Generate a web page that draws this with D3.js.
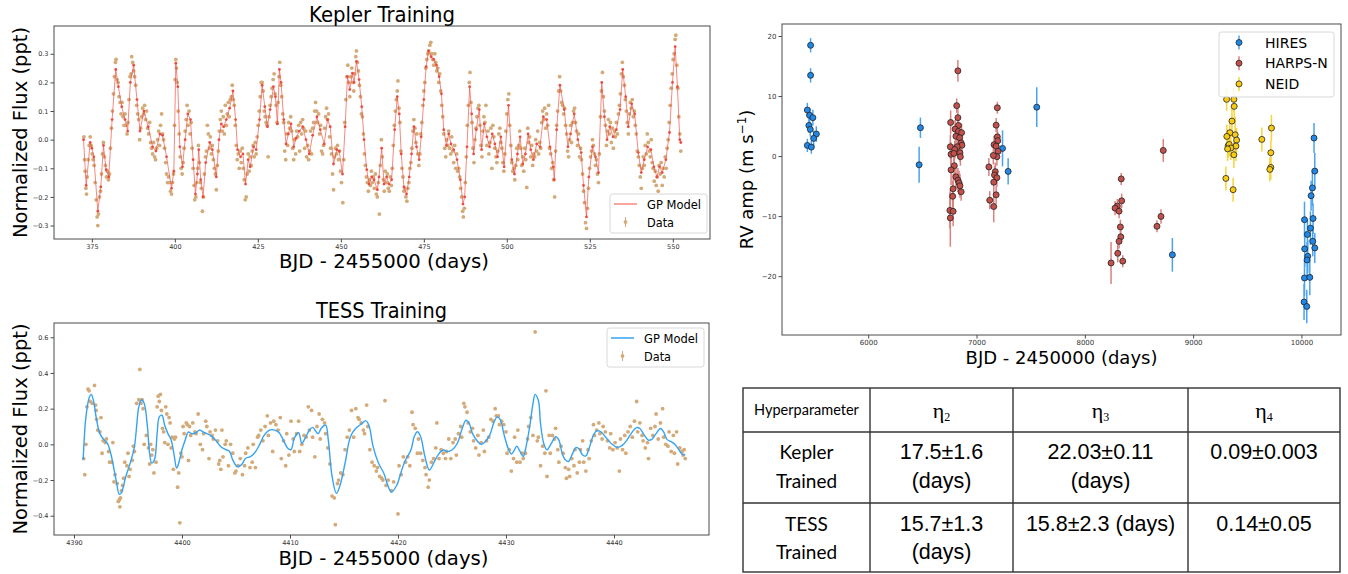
<!DOCTYPE html>
<html>
<head>
<meta charset="utf-8">
<script src="https://cdn.jsdelivr.net/npm/d3@7"></script>
<style>
  body { margin: 0; background: #fff; }
  svg text { font-family: "DejaVu Sans", sans-serif; }
</style>
</head>
<body>
<div id="chart"></div>
<script>
// Kepler GP model (day, flux in ppt)
var keplerModel = [[372.5,0.0],[373.3,-0.16],[374.5,-0.01],[375.0,-0.03],[375.6,-0.06],[376.8,-0.25],[377.7,-0.165],[378.5,-0.02],[379.3,-0.105],[380.1,-0.13],[381.1,0.07],[382.2,0.245],[383.0,0.185],[384.0,0.115],[385.0,0.07],[385.8,0.03],[386.6,0.2],[387.6,0.26],[388.6,0.14],[389.5,0.03],[390.7,0.10],[392.0,0.045],[393.3,-0.025],[394.3,-0.04],[395.5,0.02],[396.3,0.015],[397.5,-0.06],[399.0,-0.17],[399.7,-0.11],[400.3,0.267],[400.9,0.185],[401.5,-0.025],[402.3,-0.095],[403.1,0.0],[403.9,0.09],[404.7,0.07],[405.5,-0.07],[406.2,-0.19],[406.8,-0.12],[407.2,-0.035],[407.8,-0.14],[408.5,-0.2],[409.3,-0.08],[410.5,-0.01],[411.3,-0.035],[412.5,-0.13],[413.3,0.0],[414.0,0.055],[414.7,0.045],[415.5,0.07],[416.5,0.11],[417.5,0.17],[418.3,0.07],[418.9,-0.035],[419.8,-0.06],[420.5,-0.05],[421.3,-0.155],[422.1,-0.07],[422.7,-0.095],[423.7,-0.025],[424.5,-0.035],[425.5,0.07],[426.3,0.19],[427.1,0.115],[427.9,0.045],[428.7,0.105],[429.7,0.185],[430.3,0.15],[430.9,0.055],[431.5,0.245],[432.0,0.2],[432.8,0.07],[433.5,-0.015],[434.2,0.02],[435.0,0.055],[435.8,-0.025],[436.5,0.005],[437.5,0.03],[438.5,0.045],[439.5,0.0],[440.5,-0.05],[441.5,0.015],[442.8,0.08],[443.8,0.035],[445.0,-0.015],[446.0,0.07],[446.8,0.045],[447.8,-0.085],[448.8,-0.035],[449.5,-0.04],[450.5,-0.12],[451.3,0.045],[452.0,0.22],[452.7,0.175],[453.5,0.232],[454.0,0.2],[454.7,0.273],[455.5,0.21],[456.3,0.115],[457.0,0.0],[457.8,-0.105],[458.5,-0.155],[459.3,-0.13],[460.0,-0.14],[461.0,-0.175],[461.5,-0.13],[462.3,-0.03],[463.0,-0.155],[463.8,-0.13],[464.5,-0.155],[465.3,-0.14],[466.2,0.035],[467.0,0.15],[467.6,0.09],[468.2,-0.05],[469.0,-0.165],[469.8,-0.19],[470.6,-0.13],[471.3,-0.05],[472.0,0.045],[472.8,-0.025],[473.6,-0.07],[474.2,0.01],[475.0,0.14],[475.7,0.255],[476.4,0.31],[477.2,0.29],[478.0,0.28],[478.8,0.26],[479.6,0.22],[480.3,0.16],[481.0,0.035],[481.8,-0.02],[482.5,0.02],[483.2,-0.015],[484.0,-0.035],[485.0,-0.07],[486.0,-0.14],[486.8,-0.225],[487.3,-0.2],[488.0,-0.025],[488.8,0.185],[489.4,0.09],[490.0,-0.05],[490.8,0.035],[491.7,0.105],[492.4,-0.035],[493.2,0.055],[494.0,0.01],[494.8,-0.025],[495.6,0.02],[496.4,-0.015],[497.2,-0.06],[498.2,0.01],[499.2,-0.095],[500.5,0.12],[501.5,-0.07],[502.3,-0.12],[503.2,-0.05],[504.0,0.01],[504.8,-0.085],[505.6,-0.05],[506.4,0.02],[507.2,-0.035],[508.0,-0.07],[509.0,-0.015],[510.0,-0.025],[511.0,0.08],[512.0,0.07],[513.0,-0.025],[514.0,-0.095],[514.3,-0.14],[515.0,0.035],[516.0,0.19],[517.3,0.105],[518.4,-0.025],[519.2,0.02],[520.3,0.09],[521.4,0.0],[522.4,-0.045],[523.1,-0.16],[524.0,-0.27],[524.7,-0.13],[525.8,-0.025],[526.7,-0.06],[527.6,-0.115],[528.6,0.2],[529.4,0.08],[530.2,0.0],[531.0,0.045],[532.0,0.01],[533.0,0.035],[534.1,0.105],[534.9,0.245],[535.8,0.15],[536.6,0.045],[537.6,0.125],[538.5,0.09],[539.6,-0.045],[540.5,-0.115],[541.4,-0.07],[542.4,-0.025],[543.4,-0.035],[544.3,-0.095],[545.2,-0.13],[546.0,-0.095],[546.8,-0.115],[547.9,-0.07],[549.0,0.025],[549.9,0.2],[550.7,0.325],[551.4,0.185],[552.1,0.0],[552.4,-0.01]];

// Kepler photometry (day, flux in ppt)
var keplerData = [[372.6,0.01],[372.8,-0.07],[373.0,-0.11],[373.2,-0.17],[373.4,-0.19],[373.6,-0.13],[373.9,-0.07],[374.2,-0.02],[374.5,0.01],[374.8,-0.02],[375.1,-0.05],[375.4,-0.07],[375.7,-0.09],[376.0,-0.15],[376.3,-0.21],[376.6,-0.27],[376.8,-0.3],[377.0,-0.26],[377.3,-0.2],[377.6,-0.18],[377.9,-0.12],[378.2,-0.05],[378.5,-0.01],[378.8,-0.06],[379.1,-0.09],[379.4,-0.13],[379.7,-0.11],[380.0,-0.14],[380.3,-0.12],[380.6,-0.03],[380.9,0.04],[381.2,0.1],[381.5,0.16],[381.8,0.22],[382.1,0.27],[382.3,0.28],[382.6,0.21],[382.9,0.2],[383.2,0.15],[383.5,0.13],[383.8,0.09],[384.1,0.13],[384.4,0.08],[384.7,0.05],[385.0,0.09],[385.3,0.05],[385.6,0.02],[385.9,0.06],[386.2,0.14],[386.5,0.22],[386.8,0.23],[387.0,0.29],[387.3,0.27],[387.6,0.24],[387.9,0.22],[388.2,0.19],[388.5,0.12],[388.8,0.09],[389.1,0.07],[389.4,0.0],[389.7,0.04],[390.0,0.08],[390.3,0.11],[390.6,0.09],[390.9,0.12],[391.2,0.07],[391.5,0.1],[391.8,0.04],[392.1,0.02],[392.4,0.06],[392.7,-0.01],[393.0,-0.03],[393.3,-0.05],[393.6,-0.01],[393.9,-0.06],[394.2,-0.07],[394.5,-0.03],[394.8,0.0],[395.1,0.03],[395.4,-0.02],[395.7,0.05],[396.0,0.09],[396.3,0.02],[396.6,0.0],[396.9,-0.03],[397.2,-0.08],[397.5,-0.12],[397.8,-0.15],[398.1,-0.13],[398.4,-0.15],[398.7,-0.18],[399.0,-0.19],[399.3,-0.15],[399.6,-0.12],[399.9,0.05],[400.1,0.21],[400.3,0.28],[400.5,0.25],[400.7,0.2],[401.0,0.1],[401.3,0.02],[401.6,-0.06],[401.9,-0.1],[402.2,-0.12],[402.5,-0.08],[402.8,-0.03],[403.1,0.03],[403.4,0.07],[403.7,0.12],[404.0,0.05],[404.3,0.1],[404.6,0.02],[404.9,0.06],[405.2,-0.03],[405.5,-0.1],[405.8,-0.16],[406.0,-0.21],[406.3,-0.2],[406.6,-0.15],[406.9,-0.1],[407.1,-0.02],[407.4,-0.08],[407.7,-0.15],[408.0,-0.17],[408.3,-0.25],[408.6,-0.2],[408.9,-0.12],[409.2,-0.06],[409.5,-0.04],[409.8,0.05],[410.1,0.02],[410.4,-0.03],[410.7,0.01],[411.0,-0.05],[411.3,-0.02],[411.6,-0.07],[411.9,-0.1],[412.2,-0.12],[412.5,-0.175],[412.8,-0.09],[413.1,-0.04],[413.4,0.03],[413.7,0.07],[414.0,0.1],[414.3,0.03],[414.6,0.08],[414.9,0.02],[415.2,0.12],[415.5,0.05],[415.8,0.09],[416.1,0.13],[416.4,0.08],[416.7,0.14],[417.0,0.15],[417.3,0.19],[417.6,0.14],[417.9,0.12],[418.2,0.05],[418.5,-0.02],[418.8,-0.07],[419.1,-0.05],[419.4,-0.1],[419.7,-0.04],[420.0,-0.08],[420.3,-0.03],[420.6,-0.1],[420.9,-0.14],[421.2,-0.21],[421.5,-0.2],[421.8,-0.12],[422.1,-0.05],[422.4,-0.11],[422.7,-0.06],[423.0,-0.09],[423.3,-0.04],[423.6,-0.02],[423.9,-0.06],[424.2,-0.01],[424.5,-0.05],[424.8,0.01],[425.1,0.05],[425.4,0.1],[425.7,0.15],[426.0,0.2],[426.3,0.2],[426.6,0.17],[426.9,0.1],[427.2,0.08],[427.5,0.06],[427.8,0.05],[428.1,-0.06],[428.4,0.08],[428.7,0.12],[429.0,0.15],[429.3,0.18],[429.6,0.21],[429.9,0.23],[430.2,0.16],[430.5,0.12],[430.8,0.06],[431.1,0.13],[431.4,0.22],[431.6,0.27],[431.9,0.19],[432.2,0.15],[432.5,0.09],[432.8,0.06],[433.1,-0.04],[433.4,-0.07],[433.7,0.02],[434.0,-0.02],[434.3,0.06],[434.6,0.04],[434.9,0.08],[435.2,0.03],[435.5,-0.03],[435.8,-0.07],[436.1,0.0],[436.4,-0.05],[436.7,0.03],[437.0,0.01],[437.3,0.05],[437.6,-0.04],[437.9,0.06],[438.2,0.02],[438.5,0.07],[438.8,0.04],[439.1,-0.03],[439.4,0.03],[439.7,-0.06],[440.0,-0.02],[440.3,-0.07],[440.6,-0.04],[440.9,0.03],[441.2,-0.05],[441.5,0.04],[441.8,0.06],[442.1,0.1],[442.4,0.13],[442.7,0.1],[443.0,0.06],[443.3,0.09],[443.6,0.02],[443.9,0.05],[444.2,-0.04],[444.5,-0.05],[444.8,-0.02],[445.1,0.04],[445.4,0.08],[445.7,0.11],[446.0,0.07],[446.3,0.09],[446.6,0.01],[446.9,-0.03],[447.2,-0.05],[447.5,-0.12],[447.8,-0.175],[448.1,-0.06],[448.4,-0.03],[448.7,-0.05],[449.0,-0.02],[449.3,-0.07],[449.6,-0.04],[449.9,-0.11],[450.2,-0.15],[450.6,-0.22],[450.9,-0.07],[451.2,0.06],[451.5,0.14],[451.8,0.22],[452.1,0.26],[452.4,0.2],[452.7,0.15],[453.0,0.22],[453.3,0.25],[453.6,0.2],[453.9,0.17],[454.2,0.23],[454.5,0.29],[454.7,0.31],[455.0,0.27],[455.3,0.24],[455.6,0.19],[455.9,0.15],[456.2,0.09],[456.5,0.08],[456.8,0.02],[457.1,-0.05],[457.4,-0.09],[457.7,-0.13],[458.0,-0.15],[458.3,-0.18],[458.6,-0.14],[458.9,-0.16],[459.2,-0.11],[459.5,-0.15],[459.8,-0.13],[460.1,-0.17],[460.4,-0.12],[460.7,-0.19],[461.0,-0.2],[461.3,-0.15],[461.6,-0.26],[461.9,-0.09],[462.2,0.0],[462.5,-0.06],[462.8,-0.14],[463.1,-0.18],[463.4,-0.11],[463.7,-0.15],[464.0,-0.12],[464.3,-0.17],[464.6,-0.18],[464.9,-0.13],[465.2,-0.16],[465.5,-0.1],[465.8,-0.02],[466.1,0.05],[466.4,0.1],[466.7,0.14],[467.0,0.17],[467.2,0.205],[467.5,0.11],[467.8,0.06],[468.1,-0.04],[468.4,-0.1],[468.7,-0.13],[469.0,-0.18],[469.3,-0.17],[469.6,-0.2],[469.9,-0.215],[470.2,-0.17],[470.5,-0.15],[470.8,-0.1],[471.1,-0.08],[471.4,-0.03],[471.7,0.03],[472.0,0.07],[472.3,0.04],[472.6,-0.01],[472.9,0.02],[473.2,-0.05],[473.5,-0.09],[473.8,-0.05],[474.1,0.02],[474.4,0.06],[474.7,0.12],[475.0,0.17],[475.3,0.2],[475.6,0.25],[475.9,0.28],[476.2,0.3],[476.5,0.31],[476.8,0.33],[477.1,0.34],[477.4,0.3],[477.7,0.28],[478.0,0.26],[478.3,0.3],[478.6,0.27],[478.9,0.24],[479.2,0.25],[479.5,0.2],[479.8,0.23],[480.1,0.17],[480.4,0.12],[480.7,0.08],[481.0,0.02],[481.3,-0.03],[481.6,-0.06],[481.9,0.0],[482.2,-0.02],[482.5,0.03],[482.8,-0.03],[483.1,-0.05],[483.4,0.01],[483.7,-0.04],[484.0,-0.08],[484.3,-0.02],[484.6,-0.1],[484.9,-0.05],[485.2,-0.11],[485.5,-0.1],[485.8,-0.13],[486.1,-0.17],[486.4,-0.2],[486.7,-0.25],[486.9,-0.27],[487.2,-0.24],[487.5,-0.15],[487.8,-0.06],[488.1,0.05],[488.4,0.12],[488.7,0.2],[488.9,0.235],[489.2,0.13],[489.5,0.06],[489.8,-0.03],[490.1,-0.08],[490.4,0.0],[490.7,0.04],[491.0,0.08],[491.3,0.11],[491.6,0.12],[491.9,0.05],[492.2,-0.02],[492.5,-0.06],[492.8,0.03],[493.1,0.08],[493.4,0.06],[493.7,0.12],[494.0,-0.02],[494.3,0.03],[494.6,-0.05],[494.9,-0.01],[495.2,0.04],[495.5,-0.1],[495.8,0.05],[496.1,0.01],[496.4,-0.03],[496.7,-0.06],[497.0,-0.08],[497.3,-0.04],[497.6,0.02],[497.9,0.04],[498.2,-0.01],[498.5,-0.03],[498.8,-0.08],[499.1,-0.11],[499.4,-0.05],[499.7,0.03],[500.0,0.09],[500.3,0.14],[500.6,0.16],[500.9,0.05],[501.2,-0.02],[501.5,-0.08],[501.8,-0.11],[502.1,-0.1],[502.4,-0.14],[502.7,-0.09],[503.0,-0.03],[503.3,-0.07],[503.6,-0.02],[503.9,0.03],[504.2,-0.03],[504.5,-0.09],[504.8,-0.06],[505.1,-0.11],[505.4,-0.03],[505.7,-0.07],[506.0,-0.167],[506.3,0.04],[506.6,-0.01],[506.9,0.01],[507.2,-0.06],[507.5,-0.02],[507.8,-0.09],[508.1,-0.05],[508.4,-0.06],[508.7,0.0],[509.0,-0.04],[509.3,0.03],[509.6,-0.05],[509.9,-0.01],[510.2,-0.03],[510.5,0.06],[510.8,0.1],[511.1,0.07],[511.4,0.11],[511.7,0.04],[512.0,0.09],[512.3,0.05],[512.6,0.12],[512.9,-0.03],[513.2,-0.05],[513.5,-0.1],[513.8,-0.08],[514.1,-0.14],[514.4,-0.2],[514.7,-0.04],[515.0,0.05],[515.3,0.1],[515.6,0.17],[515.9,0.22],[516.2,0.17],[516.5,0.13],[516.8,0.12],[517.1,0.09],[517.4,0.11],[517.7,0.05],[518.0,0.02],[518.3,-0.04],[518.6,-0.06],[518.9,0.0],[519.2,0.05],[519.5,-0.01],[519.8,0.06],[520.1,0.1],[520.4,0.11],[520.7,0.06],[521.0,0.03],[521.3,-0.02],[521.6,0.02],[521.9,-0.06],[522.2,-0.03],[522.5,-0.07],[522.8,-0.12],[523.1,-0.18],[523.4,-0.22],[523.7,-0.29],[524.0,-0.31],[524.3,-0.24],[524.6,-0.17],[524.9,-0.1],[525.2,-0.06],[525.5,-0.04],[525.8,0.0],[526.1,-0.02],[526.4,-0.05],[526.7,-0.09],[527.0,-0.07],[527.3,-0.12],[527.6,-0.15],[527.9,-0.05],[528.2,0.08],[528.5,0.17],[528.8,0.235],[529.1,0.15],[529.4,0.1],[529.7,0.05],[530.0,-0.02],[530.3,0.03],[530.6,0.07],[530.9,0.02],[531.2,0.06],[531.5,-0.01],[531.8,0.04],[532.1,-0.03],[532.4,0.03],[532.7,0.01],[533.0,0.06],[533.3,0.02],[533.6,0.09],[533.9,0.12],[534.2,0.16],[534.5,0.23],[534.8,0.27],[535.1,0.22],[535.4,0.19],[535.7,0.14],[536.0,0.1],[536.3,0.06],[536.6,0.02],[536.9,0.09],[537.2,0.13],[537.5,0.11],[537.8,0.14],[538.1,0.08],[538.4,0.1],[538.7,0.05],[539.0,0.02],[539.3,-0.04],[539.6,-0.06],[539.9,-0.09],[540.2,-0.13],[540.5,-0.17],[540.8,-0.1],[541.1,-0.06],[541.4,-0.09],[541.7,-0.02],[542.0,-0.05],[542.3,0.02],[542.6,-0.01],[542.9,-0.04],[543.2,-0.06],[543.5,0.0],[543.8,-0.08],[544.1,-0.1],[544.4,-0.145],[544.7,-0.11],[545.0,-0.16],[545.3,-0.13],[545.6,-0.18],[545.9,-0.09],[546.2,-0.12],[546.5,-0.08],[546.8,-0.16],[547.1,-0.1],[547.4,-0.13],[547.7,-0.06],[548.0,-0.1],[548.3,-0.03],[548.6,0.0],[548.9,0.06],[549.2,0.12],[549.5,0.18],[549.8,0.23],[550.1,0.28],[550.4,0.3],[550.7,0.35],[550.9,0.365],[551.2,0.26],[551.5,0.18],[551.8,0.08],[552.1,0.02],[552.4,-0.04]];

// TESS GP model (day, flux in ppt)
var tessModel = [[4390.85,-0.087],[4391.1,0.15],[4391.4,0.26],[4391.6,0.28],[4391.8,0.246],[4392.1,0.135],[4392.4,0.06],[4392.8,0.024],[4393.1,0.005],[4393.4,-0.05],[4393.9,-0.2],[4394.2,-0.28],[4394.4,-0.27],[4394.8,-0.18],[4395.3,-0.087],[4395.6,-0.013],[4395.8,0.1],[4396.0,0.21],[4396.25,0.25],[4396.5,0.23],[4396.8,0.1],[4397.0,-0.05],[4397.2,-0.105],[4397.45,-0.087],[4397.7,0.06],[4397.9,0.154],[4398.15,0.163],[4398.4,0.107],[4398.7,0.06],[4399.0,0.024],[4399.3,-0.07],[4399.5,-0.133],[4399.7,-0.105],[4400.0,-0.03],[4400.3,0.024],[4400.6,0.07],[4400.9,0.06],[4401.3,0.065],[4401.6,0.08],[4402.1,0.065],[4402.6,0.052],[4403.1,0.024],[4403.6,-0.013],[4404.0,-0.028],[4404.4,-0.04],[4404.7,-0.087],[4405.1,-0.124],[4405.5,-0.115],[4405.9,-0.078],[4406.3,-0.07],[4406.7,-0.05],[4407.2,0.0],[4407.6,0.05],[4408.1,0.08],[4408.6,0.08],[4409.0,0.065],[4409.3,0.035],[4409.8,-0.022],[4410.1,-0.03],[4410.4,0.034],[4410.8,0.065],[4411.1,0.006],[4411.4,0.034],[4411.8,0.08],[4412.1,0.095],[4412.6,0.06],[4412.9,0.09],[4413.3,0.108],[4413.55,0.024],[4413.9,-0.18],[4414.3,-0.275],[4414.6,-0.237],[4415.1,-0.106],[4415.6,0.043],[4416.1,0.09],[4416.7,0.118],[4417.0,0.133],[4417.3,0.108],[4417.7,-0.013],[4418.2,-0.106],[4418.7,-0.163],[4419.1,-0.237],[4419.4,-0.267],[4419.9,-0.228],[4420.3,-0.153],[4420.7,-0.088],[4421.2,-0.032],[4421.5,0.043],[4421.8,0.071],[4422.1,0.043],[4422.5,-0.069],[4422.9,-0.144],[4423.3,-0.106],[4423.7,-0.06],[4424.2,-0.032],[4424.6,-0.041],[4425.0,-0.032],[4425.5,0.006],[4425.9,0.08],[4426.3,0.135],[4426.6,0.117],[4426.9,0.06],[4427.4,0.015],[4427.7,0.0],[4428.0,0.01],[4428.5,0.052],[4428.9,0.126],[4429.2,0.154],[4429.5,0.135],[4429.8,0.06],[4430.2,-0.022],[4430.5,-0.054],[4430.8,-0.03],[4431.0,-0.01],[4431.3,-0.04],[4431.6,-0.068],[4431.8,-0.03],[4432.2,0.1],[4432.5,0.228],[4432.7,0.28],[4433.0,0.246],[4433.2,0.117],[4433.5,0.005],[4433.8,-0.03],[4434.2,0.005],[4434.6,0.043],[4434.9,0.024],[4435.2,-0.05],[4435.5,-0.087],[4435.8,-0.096],[4436.1,-0.06],[4436.5,-0.017],[4436.8,-0.028],[4437.1,-0.06],[4437.4,-0.065],[4437.7,-0.022],[4438.1,0.052],[4438.4,0.076],[4438.8,0.07],[4439.2,0.043],[4439.8,0.002],[4440.3,-0.017],[4440.8,-0.004],[4441.2,0.024],[4441.7,0.07],[4442.1,0.094],[4442.4,0.089],[4442.8,0.052],[4443.2,0.024],[4443.5,0.028],[4443.9,0.06],[4444.3,0.089],[4444.6,0.07],[4444.9,0.028],[4445.3,0.015],[4445.7,-0.004],[4446.0,-0.03],[4446.3,-0.054],[4446.6,-0.06]];

// TESS photometry (day, flux in ppt)
var tessData = [[4390.9,-0.08],[4391.0,-0.17],[4391.1,0.0],[4391.2,0.21],[4391.3,0.31],[4391.4,0.3],[4391.5,0.24],[4391.7,0.23],[4391.9,0.33],[4392.0,0.22],[4392.05,0.19],[4392.1,0.14],[4392.2,0.08],[4392.4,0.07],[4392.5,0.15],[4392.6,-0.05],[4392.7,0.02],[4392.9,0.01],[4393.0,0.03],[4393.2,-0.04],[4393.3,-0.1],[4393.5,-0.1],[4393.6,0.01],[4393.7,-0.21],[4393.8,-0.17],[4394.0,-0.22],[4394.1,-0.32],[4394.2,-0.31],[4394.25,-0.35],[4394.3,-0.3],[4394.4,-0.26],[4394.5,-0.23],[4394.6,-0.19],[4394.7,-0.1],[4394.9,-0.12],[4395.0,-0.05],[4395.1,-0.18],[4395.2,-0.14],[4395.4,-0.09],[4395.5,-0.01],[4395.6,-0.04],[4395.8,0.23],[4396.0,0.25],[4396.1,0.42],[4396.2,0.23],[4396.3,0.25],[4396.4,0.2],[4396.5,0.0],[4396.7,0.05],[4396.9,-0.02],[4397.0,-0.11],[4397.1,0.0],[4397.2,-0.06],[4397.3,-0.03],[4397.4,-0.16],[4397.6,-0.1],[4397.7,0.21],[4397.8,0.27],[4397.9,0.24],[4398.0,0.28],[4398.1,0.19],[4398.2,0.09],[4398.3,0.07],[4398.4,0.01],[4398.5,0.21],[4398.6,0.17],[4398.7,0.0],[4398.8,0.15],[4398.9,0.12],[4399.0,-0.02],[4399.1,0.04],[4399.2,-0.14],[4399.3,0.03],[4399.4,0.04],[4399.6,-0.24],[4399.7,-0.16],[4399.8,-0.44],[4399.9,-0.05],[4400.0,-0.07],[4400.1,0.1],[4400.2,0.06],[4400.4,0.12],[4400.5,0.11],[4400.6,-0.09],[4400.7,0.1],[4400.8,0.05],[4401.0,0.12],[4401.2,0.07],[4401.3,0.06],[4401.5,0.17],[4401.7,0.0],[4401.9,-0.03],[4402.0,0.06],[4402.2,0.13],[4402.3,0.1],[4402.5,-0.08],[4402.6,0.07],[4402.8,0.05],[4402.9,0.03],[4403.1,0.08],[4403.3,0.02],[4403.4,-0.11],[4403.5,-0.09],[4403.6,-0.14],[4403.7,0.08],[4403.8,-0.07],[4404.0,0.0],[4404.1,0.02],[4404.3,-0.12],[4404.5,0.0],[4404.7,-0.05],[4404.9,-0.16],[4405.0,-0.15],[4405.2,-0.12],[4405.4,-0.08],[4405.6,-0.17],[4405.8,-0.12],[4405.9,-0.05],[4406.1,-0.02],[4406.3,-0.13],[4406.5,-0.1],[4406.6,0.0],[4406.8,-0.13],[4407.0,0.04],[4407.1,0.05],[4407.3,0.08],[4407.5,0.02],[4407.7,0.1],[4407.9,0.16],[4408.0,0.05],[4408.2,0.12],[4408.4,-0.04],[4408.5,0.13],[4408.7,0.11],[4408.9,0.08],[4409.1,0.15],[4409.2,-0.08],[4409.4,0.02],[4409.6,-0.12],[4409.7,0.06],[4409.9,-0.06],[4410.1,0.13],[4410.3,0.03],[4410.4,-0.04],[4410.6,0.06],[4410.8,0.13],[4410.9,-0.04],[4411.1,0.0],[4411.3,0.05],[4411.5,0.04],[4411.7,0.21],[4411.8,0.08],[4412.0,0.19],[4412.1,0.04],[4412.3,-0.07],[4412.5,0.1],[4412.7,0.17],[4412.8,0.03],[4413.0,0.14],[4413.2,0.12],[4413.3,0.06],[4413.5,-0.02],[4413.7,-0.11],[4413.9,-0.29],[4414.1,-0.3],[4414.2,-0.45],[4414.4,-0.22],[4414.5,-0.2],[4414.7,-0.16],[4414.9,-0.17],[4415.1,-0.03],[4415.3,0.04],[4415.5,0.08],[4415.7,0.19],[4415.9,0.04],[4416.1,0.2],[4416.3,0.15],[4416.4,0.14],[4416.6,0.12],[4416.8,0.08],[4416.9,0.06],[4417.1,0.22],[4417.2,0.1],[4417.4,-0.03],[4417.6,-0.1],[4417.8,-0.12],[4418.0,-0.15],[4418.1,-0.13],[4418.3,-0.18],[4418.5,-0.19],[4418.6,-0.2],[4418.8,0.245],[4418.9,-0.23],[4419.1,-0.2],[4419.4,-0.26],[4419.6,-0.21],[4420.0,-0.39],[4420.1,-0.12],[4420.3,-0.17],[4420.5,-0.07],[4420.7,-0.1],[4420.9,-0.07],[4421.1,-0.12],[4421.3,0.18],[4421.4,0.11],[4421.6,0.09],[4421.8,-0.05],[4421.9,0.03],[4422.1,-0.05],[4422.3,-0.09],[4422.5,-0.13],[4422.6,-0.17],[4422.8,-0.24],[4422.9,-0.2],[4423.1,-0.1],[4423.3,-0.08],[4423.5,-0.02],[4423.6,0.12],[4423.8,-0.08],[4424.0,-0.03],[4424.2,-0.05],[4424.4,-0.08],[4424.5,-0.04],[4424.7,0.03],[4424.9,-0.08],[4425.1,0.01],[4425.3,0.03],[4425.4,-0.06],[4425.6,0.06],[4425.8,0.1],[4425.9,0.04],[4426.1,0.23],[4426.2,0.21],[4426.4,0.18],[4426.5,0.12],[4426.7,0.07],[4426.9,0.09],[4427.0,0.02],[4427.2,-0.02],[4427.4,0.05],[4427.5,-0.06],[4427.7,0.01],[4427.9,0.08],[4428.0,-0.04],[4428.2,0.02],[4428.4,0.04],[4428.6,0.14],[4428.8,0.13],[4429.0,0.2],[4429.1,0.16],[4429.3,0.16],[4429.4,0.11],[4429.6,0.13],[4429.8,0.11],[4430.0,0.07],[4430.1,-0.05],[4430.3,-0.03],[4430.5,-0.15],[4430.7,-0.08],[4430.8,0.04],[4431.0,-0.1],[4431.1,0.08],[4431.3,-0.1],[4431.5,-0.05],[4431.6,-0.08],[4431.8,-0.05],[4432.0,0.03],[4432.1,0.1],[4432.3,0.15],[4432.5,0.05],[4432.7,0.63],[4432.9,0.02],[4433.0,0.04],[4433.2,-0.12],[4433.4,-0.01],[4433.6,-0.05],[4433.7,0.3],[4433.8,-0.18],[4434.0,0.05],[4434.1,-0.05],[4434.3,0.05],[4434.5,0.03],[4434.6,0.09],[4434.8,-0.03],[4434.9,-0.1],[4435.1,-0.01],[4435.3,-0.05],[4435.5,-0.13],[4435.6,-0.19],[4435.8,-0.14],[4435.9,-0.18],[4436.1,-0.08],[4436.3,-0.12],[4436.4,-0.03],[4436.6,-0.16],[4436.8,-0.1],[4436.9,-0.03],[4437.1,0.02],[4437.2,-0.1],[4437.4,-0.15],[4437.6,-0.03],[4437.7,-0.08],[4437.9,0.02],[4438.1,0.11],[4438.2,0.05],[4438.4,0.08],[4438.6,0.12],[4438.7,0.06],[4438.9,0.03],[4439.0,0.1],[4439.2,0.07],[4439.4,0.02],[4439.6,-0.02],[4439.7,0.06],[4439.9,-0.03],[4440.1,0.01],[4440.3,-0.02],[4440.5,-0.15],[4440.6,0.03],[4440.8,-0.03],[4441.0,0.05],[4441.1,-0.05],[4441.3,0.07],[4441.5,0.1],[4441.7,0.04],[4441.9,0.13],[4442.1,0.24],[4442.2,0.07],[4442.4,0.12],[4442.6,0.05],[4442.7,0.02],[4442.9,-0.02],[4443.1,0.01],[4443.2,-0.08],[4443.4,0.09],[4443.6,0.05],[4443.8,0.1],[4443.9,0.17],[4444.1,0.03],[4444.3,0.12],[4444.5,0.2],[4444.6,0.04],[4444.8,0.0],[4445.0,-0.01],[4445.1,0.07],[4445.3,-0.04],[4445.5,0.05],[4445.6,-0.05],[4445.8,0.07],[4445.9,-0.11],[4446.1,-0.02],[4446.3,-0.04],[4446.4,-0.06],[4446.5,-0.03],[4446.6,-0.08]];

// RV points: [BJD-2450000, RV (m/s), error]
var hiresRV = [[5468,18.45,1.2],[5468,13.45,1.2],[5438,7.67,1.2],[5459,6.8,1.2],[5489,6.4,1.3],[5452,5.1,1.2],[5465,4.45,1.2],[5521,3.67,1.3],[5496,2.95,1.3],[5438,1.78,1.1],[5475,1.5,1.1],[6482,4.72,1.7],[6470,-1.45,3.0],[7240,1.28,3.0],[7292,-2.55,2.2],[7556,8.15,3.3],[8808,-16.45,2.8],[10116,3.0,2.5],[10123,-2.5,3.0],[10101,-5.3,3.0],[10089,-6.6,2.5],[10107,-10.4,2.5],[10028,-10.6,3.0],[10083,-12.0,2.8],[10055,-13.05,2.5],[10104,-14.2,2.5],[10123,-15.3,2.5],[10030,-15.45,3.0],[10058,-16.7,2.8],[10052,-17.3,3.0],[10028,-20.3,3.0],[10077,-20.2,3.0],[10024,-24.3,3.0],[10049,-25.05,2.8]];
var harpsRV = [[6828,14.2,1.8],[6817,8.4,1.2],[6761,5.6,2.0],[6828,6.4,1.5],[6833,5.1,1.5],[6802,4.5,1.5],[6833,4.1,1.5],[6862,3.9,1.5],[6810,3.3,1.5],[6844,3.05,1.5],[6758,1.55,2.0],[6858,2.2,1.5],[6865,1.8,1.5],[6821,1.55,1.5],[6799,1.1,1.5],[6765,0.3,2.0],[6791,0.45,1.5],[6847,0.55,1.5],[6851,-0.1,1.5],[6795,-1.6,1.5],[6765,-2.3,2.5],[6810,-3.45,2.0],[6828,-4.0,2.0],[6839,-4.45,2.0],[6847,-4.95,2.0],[6784,-5.45,2.5],[6858,-5.95,1.5],[6780,-6.7,2.5],[6754,-9.05,3.0],[6784,-9.2,2.5],[6758,-10.3,4.8],[7192,8.05,1.0],[7181,5.15,1.2],[7192,3.2,1.5],[7196,2.55,1.5],[7162,1.9,1.5],[7181,1.65,1.5],[7199,0.8,1.5],[7188,-0.1,1.5],[7155,0.1,1.5],[7114,-1.8,1.5],[7173,-2.6,1.5],[7166,-3.15,1.5],[7188,-3.6,1.5],[7159,-4.35,1.5],[7181,-6.45,1.5],[7122,-7.35,1.5],[7159,-8.4,2.6],[8336,-3.8,1.0],[8300,-8.33,1.2],[8279,-8.67,1.2],[8316,-9.17,1.2],[8340,-7.45,1.2],[8328,-11.8,1.2],[8332,-13.45,1.2],[8316,-14.2,1.2],[8304,-16.2,1.5],[8242,-17.8,3.5],[8350,-17.5,1.0],[8666,-11.7,1.0],[8703,-10.05,1.2],[8724,0.94,1.9]];
var neidRV = [[9309,9.45,1.9],[9376,9.45,1.9],[9379,8.28,2.0],[9358,5.83,2.2],[9388,3.55,3.0],[9339,3.9,2.0],[9311,3.28,2.0],[9401,2.67,2.0],[9323,1.72,2.0],[9395,1.67,2.5],[9333,1.94,2.0],[9348,1.35,2.0],[9318,1.2,2.0],[9376,0.22,2.2],[9302,-3.72,2.0],[9369,-5.6,2.0],[9634,2.78,2.0],[9723,4.67,2.2],[9717,0.56,2.0],[9717,-1.89,2.0],[9708,-2.22,2.0]];

// hyperparameter table
var tableSymbols = ["2", "3", "4"];
var tableRowLabels = [["Kepler", "Trained"], ["TESS", "Trained"]];
var tableCells = [
  [["17.5±1.6", "(days)"], ["22.03±0.11", "(days)"], ["0.09±0.003"]],
  [["15.7±1.3", "(days)"], ["15.8±2.3 (days)"], ["0.14±0.05"]]
];

var svg = d3.select("#chart").append("svg")
  .attr("width", 1348)
  .attr("height", 574);

var frameColor = "#4a4a4a";
var tan = "#d3aa78";

// shared axis drawing for all three plots
function drawAxes(x, y, box, xTicks, yTicks, xFmt, yFmt, fontSize) {
  var gx = svg.append("g")
    .attr("transform", `translate(0, ${box.bottom})`)
    .call(d3.axisBottom(x).tickValues(xTicks).tickFormat(xFmt).tickSize(3.5).tickPadding(1.5));
  var gy = svg.append("g")
    .attr("transform", `translate(${box.left}, 0)`)
    .call(d3.axisLeft(y).tickValues(yTicks).tickFormat(yFmt).tickSize(3.5).tickPadding(2));
  [gx, gy].forEach(function (g) {
    g.select(".domain").remove();
    g.selectAll("line").attr("stroke", frameColor);
    g.selectAll("text").attr("fill", "#333").style("font-size", fontSize + "px");
  });
  svg.append("rect")
    .attr("x", box.left).attr("y", box.top)
    .attr("width", box.right - box.left).attr("height", box.bottom - box.top)
    .attr("fill", "none").attr("stroke", frameColor).attr("stroke-width", 1);
}

function lightCurve(cfg) {
  var box = cfg.box;
  var x = d3.scaleLinear().domain(cfg.xDomain).range([box.left, box.right]);
  var y = d3.scaleLinear().domain(cfg.yDomain).range([box.bottom, box.top]);

  drawAxes(x, y, box, cfg.xTicks, cfg.yTicks, d3.format("d"), d3.format(".1f"), 6.5);

  // data
  svg.append("g").selectAll("circle")
    .data(cfg.data).enter().append("circle")
    .attr("cx", (d) => x(d[0]))
    .attr("cy", (d) => y(d[1]))
    .attr("r", 1.9)
    .attr("fill", tan);

  // model
  var line = d3.line().x((d) => x(d[0])).y((d) => y(d[1])).curve(cfg.curve);
  svg.append("path")
    .datum(cfg.model)
    .attr("d", line)
    .attr("fill", "none")
    .attr("stroke", cfg.color)
    .attr("stroke-opacity", cfg.lineOpacity)
    .attr("stroke-width", cfg.lineWidth);

  if (cfg.modelDots) {
    svg.append("g").selectAll("circle")
      .data(cfg.model).enter().append("circle")
      .attr("cx", (d) => x(d[0]))
      .attr("cy", (d) => y(d[1]))
      .attr("r", 1.4)
      .attr("fill", "#ee4b3e");
  }

  // title and labels
  svg.append("text")
    .attr("x", (box.left + box.right) / 2).attr("y", cfg.titleY)
    .attr("text-anchor", "middle")
    .attr("textLength", cfg.titleLen).attr("lengthAdjust", "spacingAndGlyphs")
    .style("font-size", "21px")
    .text(cfg.title);
  svg.append("text")
    .attr("x", (box.left + box.right) / 2 + 2).attr("y", cfg.xLabelY)
    .attr("text-anchor", "middle")
    .attr("textLength", 210).attr("lengthAdjust", "spacingAndGlyphs")
    .style("font-size", "19.5px")
    .text("BJD - 2455000 (days)");
  svg.append("text")
    .attr("transform", `translate(27, ${(box.top + box.bottom) / 2}) rotate(-90)`)
    .attr("text-anchor", "middle")
    .style("font-size", "19.5px")
    .text("Normalized Flux (ppt)");

  // legend
  var lg = cfg.legend;
  svg.append("rect")
    .attr("x", lg.x).attr("y", lg.y).attr("width", 97).attr("height", 39)
    .attr("rx", 2.5)
    .attr("fill", "#fff").attr("fill-opacity", 0.85)
    .attr("stroke", "#d8d8d8").attr("stroke-width", 1);
  svg.append("line")
    .attr("x1", lg.x + 4).attr("x2", lg.x + 27)
    .attr("y1", lg.y + 10).attr("y2", lg.y + 10)
    .attr("stroke", cfg.color).attr("stroke-opacity", cfg.lineOpacity).attr("stroke-width", 1.5);
  svg.append("line")
    .attr("x1", lg.x + 15.5).attr("x2", lg.x + 15.5)
    .attr("y1", lg.y + 23).attr("y2", lg.y + 33)
    .attr("stroke", tan).attr("stroke-width", 1);
  svg.append("circle")
    .attr("cx", lg.x + 15.5).attr("cy", lg.y + 28).attr("r", 1.9).attr("fill", tan);
  svg.append("text")
    .attr("x", lg.x + 37).attr("y", lg.y + 14.5)
    .attr("textLength", 54).attr("lengthAdjust", "spacingAndGlyphs")
    .style("font-size", "12.5px").text("GP Model");
  svg.append("text")
    .attr("x", lg.x + 37).attr("y", lg.y + 32.5)
    .attr("textLength", 27).attr("lengthAdjust", "spacingAndGlyphs")
    .style("font-size", "12.5px").text("Data");
}

lightCurve({
  box: { left: 54, right: 710, top: 26, bottom: 239 },
  xDomain: [363.6, 561.2],
  yDomain: [-0.347, 0.397],
  xTicks: [375, 400, 425, 450, 475, 500, 525, 550],
  yTicks: [-0.3, -0.2, -0.1, 0, 0.1, 0.2, 0.3],
  data: keplerData,
  model: keplerModel,
  curve: d3.curveLinear,
  color: "#f04a3c",
  lineOpacity: 0.65,
  lineWidth: 1,
  modelDots: true,
  title: "Kepler Training",
  titleY: 22,
  titleLen: 146,
  xLabelY: 268,
  legend: { x: 610, y: 194 },
});

lightCurve({
  box: { left: 54, right: 709, top: 323, bottom: 535 },
  xDomain: [4388.15, 4448.8],
  yDomain: [-0.508, 0.68],
  xTicks: [4390, 4400, 4410, 4420, 4430, 4440],
  yTicks: [-0.4, -0.2, 0, 0.2, 0.4, 0.6],
  data: tessData,
  model: tessModel,
  curve: d3.curveCatmullRom,
  color: "#35a3f4",
  lineOpacity: 1,
  lineWidth: 1.4,
  modelDots: false,
  title: "TESS Training",
  titleY: 318,
  titleLen: 131,
  xLabelY: 565,
  legend: { x: 607, y: 328 },
});

// RV panel
var rvBox = { left: 782, right: 1341, top: 24, bottom: 335 };
var rvX = d3.scaleLinear().domain([5204, 10365]).range([rvBox.left, rvBox.right]);
var rvY = d3.scaleLinear().domain([-29.8, 22.0]).range([rvBox.bottom, rvBox.top]);

drawAxes(rvX, rvY, rvBox, [6000, 7000, 8000, 9000, 10000], [-20, -10, 0, 10, 20],
  d3.format("d"), d3.format("d"), 7);

var instruments = [
  { name: "HIRES", rows: hiresRV, fill: "#1f88e8", bar: "#4aa3f0" },
  { name: "HARPS-N", rows: harpsRV, fill: "#c4504c", bar: "#d9827f" },
  { name: "NEID", rows: neidRV, fill: "#f7cc10", bar: "#f7d33a" },
];

instruments.forEach(function (inst) {
  var g = svg.append("g");
  g.selectAll("line")
    .data(inst.rows).enter().append("line")
    .attr("x1", (d) => rvX(d[0])).attr("x2", (d) => rvX(d[0]))
    .attr("y1", (d) => rvY(d[1] - d[2])).attr("y2", (d) => rvY(d[1] + d[2]))
    .attr("stroke", inst.bar).attr("stroke-width", 1.5);
  g.selectAll("circle")
    .data(inst.rows).enter().append("circle")
    .attr("cx", (d) => rvX(d[0]))
    .attr("cy", (d) => rvY(d[1]))
    .attr("r", 3)
    .attr("fill", inst.fill)
    .attr("stroke", "#222").attr("stroke-width", 0.8);
});

svg.append("text")
  .attr("x", (rvBox.left + rvBox.right) / 2).attr("y", 364)
  .attr("text-anchor", "middle")
  .style("font-size", "18px")
  .text("BJD - 2450000 (days)");

var rvLabel = svg.append("text")
  .attr("transform", `translate(753, ${(rvBox.top + rvBox.bottom) / 2}) rotate(-90)`)
  .attr("text-anchor", "middle")
  .style("font-size", "18px");
rvLabel.append("tspan").text("RV amp (m s");
rvLabel.append("tspan").attr("dy", -7).style("font-size", "12px").text("−1");
rvLabel.append("tspan").attr("dy", 7).text(")");

// RV legend
svg.append("rect")
  .attr("x", 1219).attr("y", 32).attr("width", 115).attr("height", 65)
  .attr("rx", 2.5)
  .attr("fill", "#fff").attr("fill-opacity", 0.85)
  .attr("stroke", "#d8d8d8");
instruments.forEach(function (inst, i) {
  var ly = 42.5 + i * 20.7;
  svg.append("line")
    .attr("x1", 1239).attr("x2", 1239).attr("y1", ly - 7).attr("y2", ly + 7)
    .attr("stroke", inst.bar).attr("stroke-width", 1.5);
  svg.append("circle")
    .attr("cx", 1239).attr("cy", ly).attr("r", 3)
    .attr("fill", inst.fill).attr("stroke", "#222").attr("stroke-width", 0.8);
  svg.append("text")
    .attr("x", 1265).attr("y", ly + 5)
    .style("font-size", "14px")
    .text(inst.name);
});

// Table
var colEdges = [743, 870, 1013, 1188, 1340];
var rowEdges = [388, 432, 503, 572];
var tbl = svg.append("g");

tbl.append("rect")
  .attr("x", colEdges[0]).attr("y", rowEdges[0])
  .attr("width", colEdges[4] - colEdges[0]).attr("height", rowEdges[3] - rowEdges[0])
  .attr("fill", "none").attr("stroke", "#333").attr("stroke-width", 1.4);
colEdges.slice(1, 4).forEach(function (cx) {
  tbl.append("line").attr("x1", cx).attr("x2", cx)
    .attr("y1", rowEdges[0]).attr("y2", rowEdges[3])
    .attr("stroke", "#333").attr("stroke-width", 1.4);
});
rowEdges.slice(1, 3).forEach(function (ry) {
  tbl.append("line").attr("x1", colEdges[0]).attr("x2", colEdges[4])
    .attr("y1", ry).attr("y2", ry)
    .attr("stroke", "#333").attr("stroke-width", 1.4);
});

function colMid(i) { return (colEdges[i] + colEdges[i + 1]) / 2; }

tbl.append("text")
  .attr("x", colMid(0)).attr("y", 415)
  .attr("text-anchor", "middle")
  .style("font-family", "Lato, 'Open Sans', sans-serif")
  .style("font-size", "14.5px")
  .text("Hyperparameter");

tableSymbols.forEach(function (s, i) {
  var t = tbl.append("text")
    .attr("x", colMid(i + 1)).attr("y", 418)
    .attr("text-anchor", "middle")
    .style("font-family", "'Liberation Serif', serif")
    .style("font-size", "22px");
  t.append("tspan").text("η");
  t.append("tspan").attr("dy", 3).style("font-size", "12px").text(s);
});

var lineBase = [[459, 488], [531, 559]];
tableRowLabels.forEach(function (lab, r) {
  lab.forEach(function (s, k) {
    tbl.append("text")
      .attr("x", colMid(0)).attr("y", lineBase[r][k])
      .attr("text-anchor", "middle")
      .style("font-family", "Lato, 'Open Sans', sans-serif")
      .style("font-size", "19px")
      .text(s);
  });
});

tableCells.forEach(function (row, r) {
  row.forEach(function (cell, c) {
    cell.forEach(function (s, k) {
      tbl.append("text")
        .attr("x", colMid(c + 1)).attr("y", lineBase[r][k])
        .attr("text-anchor", "middle")
        .style("font-family", "'Liberation Sans', Arial, sans-serif")
        .style("font-size", "21.5px")
        .text(s);
    });
  });
});
</script>
</body>
</html>
